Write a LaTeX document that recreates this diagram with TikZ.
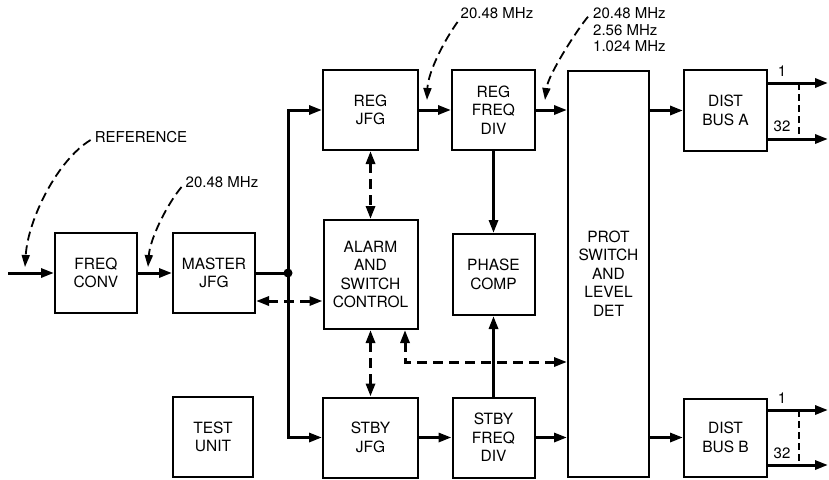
\documentclass[tikz,border=0pt]{standalone}
\usepackage{fontspec}
\setmainfont{TeX Gyre Heros}
\usetikzlibrary{arrows.meta}
\begin{document}
\begin{tikzpicture}[x=1pt,y=-1pt,
  blk/.style={draw,line width=2pt,inner sep=0pt,align=center,font=\fontsize{15.5}{18.5}\selectfont},
  lbl/.style={inner sep=1pt,font=\fontsize{15}{16.5}\selectfont},
  conn/.style={line width=3pt,-{Triangle[length=13pt,width=9pt]}},
  wire/.style={line width=3pt},
  dconn/.style={line width=3pt,dash pattern=on 10pt off 6pt,{Triangle[length=13pt,width=9pt]}-{Triangle[length=13pt,width=9pt]}},
  call/.style={line width=1.8pt,dash pattern=on 9pt off 5pt,-{Triangle[length=12pt,width=8pt]}},
  bus/.style={line width=1.8pt,dash pattern=on 7pt off 4pt}]
\useasboundingbox (0,0) rectangle (829,479);

% blocks
\node[blk,minimum width=82pt,minimum height=80pt] (fc) at (96,273) {FREQ\\CONV};
\node[blk,minimum width=82pt,minimum height=80pt] (mj) at (214,273) {MASTER\\JFG};
\node[blk,minimum width=95pt,minimum height=80pt] (rj) at (370.5,110) {REG\\JFG};
\node[blk,minimum width=83pt,minimum height=80pt] (rfd) at (493.5,110) {REG\\FREQ\\DIV};
\node[blk,minimum width=94pt,minimum height=109pt] (asc) at (370.5,274.5) {ALARM\\AND\\SWITCH\\CONTROL};
\node[blk,minimum width=82pt,minimum height=81pt] (pc) at (493.5,274.5) {PHASE\\COMP};
\node[blk,minimum width=95pt,minimum height=80pt] (sj) at (370.5,437.5) {STBY\\JFG};
\node[blk,minimum width=82pt,minimum height=80pt] (sfd) at (493.5,437.5) {STBY\\FREQ\\DIV};
\node[blk,minimum width=80pt,minimum height=80pt] (tu) at (213,437) {TEST\\UNIT};
\node[blk,minimum width=81pt,minimum height=406pt] (prot) at (608.5,273.5) {PROT\\SWITCH\\AND\\LEVEL\\DET};
\node[blk,minimum width=83pt,minimum height=81pt] (dba) at (725.5,110.5) {DIST\\BUS A};
\node[blk,minimum width=83pt,minimum height=78pt] (dbb) at (725.5,437.5) {DIST\\BUS B};

% coordinates
\coordinate (in) at (8,273);
\coordinate (j) at (288,273);
\coordinate (a1) at (828,83);
\coordinate (a2) at (828,139);
\coordinate (b1) at (828,410);
\coordinate (b2) at (828,465);
\coordinate (k) at (405,362);

% main signal path
\draw[conn] (in) -- (fc.west);
\draw[conn] (fc.east) -- (mj.west);
\draw[wire] (mj.east) -- (j);
\fill (j) circle (4.5pt);
\draw[conn] (j) |- (rj.west);
\draw[conn] (j) |- (sj.west);
\draw[conn] (rj.east) -- (rfd.west);
\draw[conn] (rfd.east) -- (rfd.east -| prot.west);
\draw[conn] (rfd.south) -- (pc.north);
\draw[conn] (sfd.north) -- (pc.south);
\draw[conn] (sj.east) -- (sfd.west);
\draw[conn] (sfd.east) -- (sfd.east -| prot.west);
\draw[conn] (prot.east |- dba.west) -- (dba.west);
\draw[conn] (prot.east |- dbb.west) -- (dbb.west);

% outputs
\draw[conn] (a1 -| dba.east) -- (a1);
\draw[conn] (a2 -| dba.east) -- (a2);
\draw[bus] (799,83) -- (799,139);
\node[lbl] (na1) at (782,71) {1};
\node[lbl] (na2) at (782,126) {32};
\draw[conn] (b1 -| dbb.east) -- (b1);
\draw[conn] (b2 -| dbb.east) -- (b2);
\draw[bus] (799,410) -- (799,465);
\node[lbl] (nb1) at (782,398) {1};
\node[lbl] (nb2) at (782,453) {32};

% control (dashed)
\draw[dconn] (mj.east |- 0,301) -- (asc.west |- 0,301);
\draw[dconn] (rj.south) -- (asc.north);
\draw[dconn] (asc.south) -- (sj.north);
\draw[dconn] (asc.south -| k) |- (k -| prot.west);

% callouts
\coordinate (t1) at (25,267);
\coordinate (t2) at (148,267);
\coordinate (t3) at (427,100);
\coordinate (t4) at (545,100);
\node[lbl] (ref) at (141,137) {REFERENCE};
\node[lbl] (f1) at (222,182) {20.48 MHz};
\node[lbl] (f2) at (497,13) {20.48 MHz};
\node[lbl,anchor=west,align=left] (f3) at (592,30) {20.48 MHz\\2.56 MHz\\1.024 MHz};
\draw[call] ([shift={(-3pt,-3pt)}]ref.west) .. controls +(-33pt,-20pt) and +(3pt,48pt) .. (t1);
\draw[call] ([shift={(-3pt,-5pt)}]f1.west) .. controls +(-15pt,-18pt) and +(2pt,28pt) .. (t2);
\draw[call] ([shift={(-2pt,-9pt)}]f2.west) .. controls +(-13pt,-18pt) and +(1pt,28pt) .. (t3);
\draw[call] ([shift={(-4pt,-10pt)}]f3.north west) .. controls +(-11pt,-13pt) and +(3pt,25pt) .. (t4);
\end{tikzpicture}
\end{document}
